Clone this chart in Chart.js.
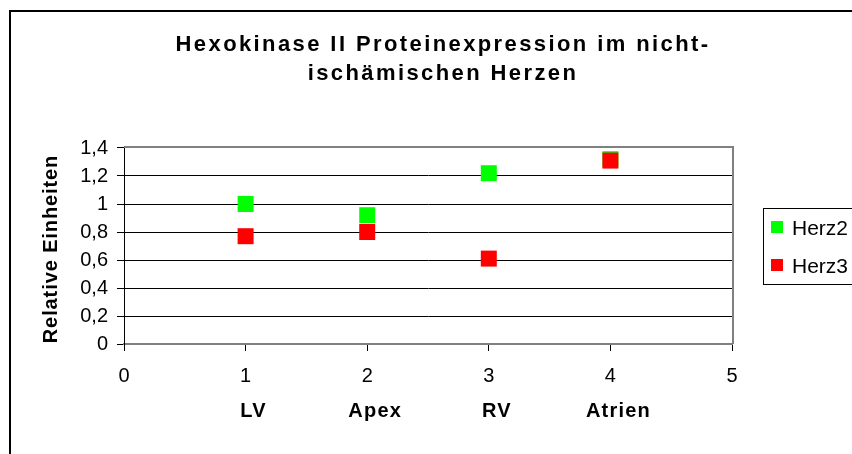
<!DOCTYPE html>
<html>
<head>
<meta charset="utf-8">
<script src="https://cdn.jsdelivr.net/npm/chart.js@4"></script>
<style>
  body { margin: 0; background: #fff; }
  canvas { display: block; }
</style>
</head>
<body>
<canvas id="chart" width="852" height="454"></canvas>
<script>
// --- data ---
const categories = ["LV", "Apex", "RV", "Atrien"];
const xValues = [1, 2, 3, 4];
const herz2 = [1.0, 0.92, 1.22, 1.32];
const herz3 = [0.77, 0.8, 0.61, 1.31];
const yTickLabels = ["0", "0,2", "0,4", "0,6", "0,8", "1", "1,2", "1,4"];
const xTickLabels = ["0", "1", "2", "3", "4", "5"];
const seriesNames = ["Herz2", "Herz3"];
const titleLines = ["Hexokinase II Proteinexpression im nicht-", "ischämischen Herzen"];
const yTitle = "Relative Einheiten";

const FONT = "'Liberation Sans', Arial, sans-serif";
const colors = ["#00ff00", "#ff0000"];

// extra drawing: frame, title, y title, category names, legend, plot border
const decor = {
  id: "decor",
  afterDraw(chart) {
    const ctx = chart.ctx;
    const area = chart.chartArea;
    ctx.save();

    // outer frame (only top and left are visible)
    ctx.strokeStyle = "#000";
    ctx.lineWidth = 2;
    ctx.beginPath();
    ctx.moveTo(10, 454);
    ctx.lineTo(10, 11);
    ctx.lineTo(852, 11);
    ctx.stroke();

    // plot border top / right
    ctx.strokeStyle = "#808080";
    ctx.lineWidth = 2;
    ctx.beginPath();
    ctx.moveTo(area.left, area.top - 1);
    ctx.lineTo(area.right + 1, area.top - 1);
    ctx.lineTo(area.right + 1, area.bottom);
    ctx.stroke();

    ctx.fillStyle = "#000";
    ctx.textAlign = "center";
    ctx.textBaseline = "alphabetic";

    // title
    ctx.font = "bold 22px " + FONT;
    ctx.letterSpacing = "2.4px";
    titleLines.forEach((t, i) => ctx.fillText(t, 443, 51 + i * 29));

    // y axis title
    ctx.save();
    ctx.translate(57, 249);
    ctx.rotate(-Math.PI / 2);
    ctx.font = "bold 20px " + FONT;
    ctx.letterSpacing = "0.9px";
    ctx.fillText(yTitle, 0, 0);
    ctx.restore();

    // category names under the x ticks
    const xs = chart.scales.x;
    ctx.font = "bold 20px " + FONT;
    ctx.letterSpacing = "1.2px";
    categories.forEach((c, i) => {
      ctx.fillText(c, xs.getPixelForValue(xValues[i]) + 8, 417);
    });

    // legend
    ctx.letterSpacing = "0px";
    ctx.strokeStyle = "#000";
    ctx.lineWidth = 1;
    ctx.strokeRect(763.5, 208.5, 100, 76);
    ctx.textAlign = "left";
    ctx.font = "21px " + FONT;
    seriesNames.forEach((n, i) => {
      const cy = 227 + i * 38;
      ctx.fillStyle = colors[i];
      ctx.fillRect(771, cy - 6, 12, 12);
      ctx.fillStyle = "#000";
      ctx.fillText(n, 792, cy + 8);
    });

    ctx.restore();
  },
};

new Chart(document.getElementById("chart"), {
  type: "scatter",
  data: {
    datasets: [
      {
        label: seriesNames[0],
        data: xValues.map((x, i) => ({ x: x, y: herz2[i] })),
        backgroundColor: colors[0],
        borderColor: colors[0],
        pointStyle: "rect",
        pointRadius: 11.3,
        pointHoverRadius: 11.3,
        borderWidth: 0,
        order: 1,
      },
      {
        label: seriesNames[1],
        data: xValues.map((x, i) => ({ x: x, y: herz3[i] })),
        backgroundColor: colors[1],
        borderColor: colors[1],
        pointStyle: "rect",
        pointRadius: 11.3,
        pointHoverRadius: 11.3,
        borderWidth: 0,
        order: 0,
      },
    ],
  },
  options: {
    responsive: false,
    animation: false,
    layout: { padding: { left: 10, top: 148, right: 120, bottom: 0 } },
    plugins: {
      legend: { display: false },
      tooltip: { enabled: false },
    },
    scales: {
      x: {
        type: "linear",
        min: 0,
        max: 5,
        afterBuildTicks: (s) => {
          s.ticks = xTickLabels.map((t, i) => ({ value: i }));
        },
        afterFit: (s) => { s.height = 110; },
        ticks: {
          color: "#000",
          font: { family: FONT, size: 20 },
          padding: 13,
          maxRotation: 0,
          callback: (v, i) => xTickLabels[i],
        },
        grid: {
          drawOnChartArea: false,
          drawTicks: true,
          tickLength: 7,
          color: "#000",
        },
        border: { color: "#808080", width: 2 },
      },
      y: {
        min: 0,
        max: 1.4,
        afterBuildTicks: (s) => {
          s.ticks = yTickLabels.map((t, i) => ({ value: i * 0.2 }));
        },
        afterFit: (s) => { s.width = 114; },
        ticks: {
          color: "#000",
          font: { family: FONT, size: 20 },
          padding: 9,
          callback: (v, i) => yTickLabels[i],
        },
        grid: {
          color: "#000",
          lineWidth: 1,
          tickLength: 7,
        },
        border: { color: "#000", width: 1 },
      },
    },
  },
  plugins: [decor],
});
</script>
</body>
</html>
